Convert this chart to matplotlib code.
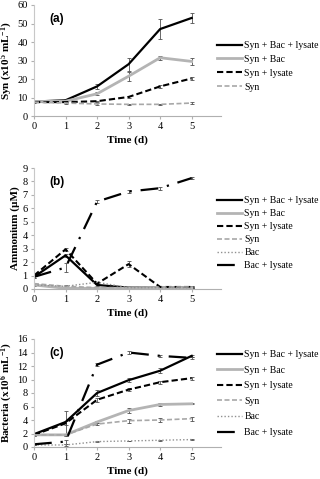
import matplotlib
matplotlib.use("Agg")
import matplotlib.pyplot as plt

plt.rcParams['font.family'] = ['Liberation Serif', 'DejaVu Serif']
plt.rcParams['mathtext.fontset'] = 'custom'
plt.rcParams['mathtext.rm'] = 'Liberation Serif'
plt.rcParams['mathtext.bf'] = 'Liberation Serif:bold'
plt.rcParams['mathtext.it'] = 'Liberation Serif:italic'

days = [0, 1, 2, 3, 4, 5]

# Panel (a): Syn (x10^5 mL^-1)
a_sbl = [7.8, 8.5, 16.0, 28.0, 47.0, 53.0]
a_sbl_err = [0.3, 0.5, 1.5, 3.5, 5.5, 2.5]
a_sb = [7.8, 8.0, 12.0, 21.5, 31.5, 29.5]
a_sb_err = [0.3, 0.3, 0.8, 2.5, 1.2, 2.0]
a_sl = [7.5, 7.5, 8.0, 10.3, 16.0, 20.3]
a_sl_err = [0.2, 0.2, 0.3, 0.5, 0.8, 0.7]
a_s = [7.5, 7.0, 6.5, 6.3, 6.3, 7.0]
a_s_err = [0.3, 0.3, 0.3, 0.3, 0.3, 0.3]

# Panel (b): Ammonium (uM)
b_sbl = [0.9, 2.5, 0.3, 0.1, 0.1, 0.1]
b_sbl_err = [0.05, 0.1, 0.05, 0.05, 0.05, 0.05]
b_sb = [0.3, 0.05, 0.05, 0.05, 0.1, 0.1]
b_sb_err = [0.05, 0.05, 0.05, 0.05, 0.05, 0.05]
b_sl = [1.0, 2.95, 0.4, 1.85, 0.15, 0.15]
b_sl_err = [0.05, 0.1, 0.05, 0.2, 0.05, 0.05]
b_s = [0.4, 0.2, 0.1, 0.1, 0.15, 0.15]
b_s_err = [0.05, 0.05, 0.05, 0.05, 0.05, 0.05]
b_b = [0.3, 0.2, 0.5, 0.1, 0.1, 0.1]
b_b_err = [0.05, 0.1, 0.05, 0.05, 0.05, 0.05]
b_bl = [0.9, 1.6, 6.5, 7.25, 7.5, 8.25]
b_bl_err = [0.05, 0.3, 0.1, 0.1, 0.1, 0.1]

# Panel (c): Bacteria (x10^6 mL^-1)
c_sbl = [1.9, 3.7, 8.0, 9.9, 11.3, 13.5]
c_sbl_err = [0.1, 1.7, 0.5, 0.3, 0.4, 0.2]
c_sb = [1.8, 1.8, 3.7, 5.4, 6.3, 6.4]
c_sb_err = [0.1, 0.1, 0.2, 0.4, 0.2, 0.1]
c_sl = [1.8, 3.5, 7.0, 8.5, 9.6, 10.2]
c_sl_err = [0.1, 0.3, 0.3, 0.2, 0.2, 0.2]
c_s = [1.8, 1.8, 3.4, 3.9, 4.0, 4.2]
c_s_err = [0.1, 0.1, 0.2, 0.3, 0.3, 0.3]
c_b = [0.3, 0.3, 0.8, 0.9, 1.0, 1.1]
c_b_err = [0.05, 0.1, 0.05, 0.05, 0.05, 0.05]
c_bl = [0.4, 0.8, 12.2, 14.0, 13.5, 13.2]
c_bl_err = [0.1, 0.3, 0.2, 0.2, 0.2, 0.2]

labels = ["Syn + Bac + lysate", "Syn + Bac", "Syn + lysate", "Syn", "Bac", "Bac + lysate"]

styles = [
    dict(color='black', lw=1.6, ls='-'),
    dict(color='#b4b4b4', lw=2.0, ls='-'),
    dict(color='black', lw=1.5, ls=(0, (3, 1.5))),
    dict(color='#a8a8a8', lw=1.2, ls=(0, (3, 1.5))),
    dict(color='#909090', lw=1.0, ls=(0, (1, 1.5))),
    dict(color='black', lw=1.6, ls=(0, (8, 4, 1, 4))),
]

fig = plt.figure(figsize=(3.2, 4.79), dpi=100)

def setup(ax, ymax, ystep, ylabel, letter, xlabel=True):
    ax.set_xlim(0, 5.93)
    ax.set_ylim(0, ymax)
    ax.set_xticks(days)
    ax.set_yticks(range(0, ymax + 1, ystep))
    for s in ['top', 'right']:
        ax.spines[s].set_visible(False)
    ax.spines['left'].set_color('#c8c8c8')
    ax.spines['bottom'].set_color('#b0b0b0')
    ax.spines['left'].set_linewidth(0.8)
    ax.spines['bottom'].set_linewidth(0.8)
    ax.tick_params(axis='both', labelsize=7.5, colors='#b0b0b0', labelcolor='black',
                   length=2.5, width=0.8, pad=2)
    ax.set_ylabel(ylabel, fontsize=8, fontweight='bold', labelpad=2)
    if xlabel:
        ax.set_xlabel("Time (d)", fontsize=8, fontweight='bold', labelpad=3)
    ax.text(0.08, 0.93, letter, transform=ax.transAxes, fontsize=8.5, fontweight='bold',
            family='Liberation Sans', va='top', ha='left')

def plot_series(ax, series):
    handles = []
    for (y, e), st in zip(series, styles):
        eb = ax.errorbar(days, y, yerr=e, ecolor='#505050', elinewidth=0.6, capsize=1.5,
                         capthick=0.6, **st)
        handles.append(eb.lines[0])
    return handles

ax1 = fig.add_axes([34/320, 1-116/479, 187/320, 111/479])
h = plot_series(ax1, [(a_sbl, a_sbl_err), (a_sb, a_sb_err), (a_sl, a_sl_err), (a_s, a_s_err)])
setup(ax1, 60, 10, r"Syn (x10$^{\mathbf{5}}$ mL$^{\mathbf{-1}}$)", "(a)")
ax1.legend(h, labels[:4], loc='upper left', bbox_to_anchor=(183/187, 1-36/111), frameon=False,
           fontsize=7, handlelength=2.6, handletextpad=0.2, labelspacing=0.5, borderpad=0,
           borderaxespad=0)

ax2 = fig.add_axes([34/320, 1-289/479, 187/320, 121/479])
h = plot_series(ax2, [(b_sbl, b_sbl_err), (b_sb, b_sb_err), (b_sl, b_sl_err), (b_s, b_s_err),
                      (b_b, b_b_err), (b_bl, b_bl_err)])
setup(ax2, 9, 1, "Ammonium (µM)", "(b)")
ax2.legend(h, labels, loc='upper left', bbox_to_anchor=(183/187, 1-28/121), frameon=False,
           fontsize=7, handlelength=2.6, handletextpad=0.2, labelspacing=0.42, borderpad=0,
           borderaxespad=0)

ax3 = fig.add_axes([34/320, 1-447/479, 187/320, 108/479])
h = plot_series(ax3, [(c_sbl, c_sbl_err), (c_sb, c_sb_err), (c_sl, c_sl_err), (c_s, c_s_err),
                      (c_b, c_b_err), (c_bl, c_bl_err)])
setup(ax3, 16, 2, r"Bacteria (x10$^{\mathbf{6}}$ mL$^{\mathbf{-1}}$)", "(c)")
ax3.legend(h, labels, loc='upper left', bbox_to_anchor=(183/187, 1-11/108), frameon=False,
           fontsize=7, handlelength=2.6, handletextpad=0.2, labelspacing=0.68, borderpad=0,
           borderaxespad=0)

fig.savefig("out.png", dpi=100)
